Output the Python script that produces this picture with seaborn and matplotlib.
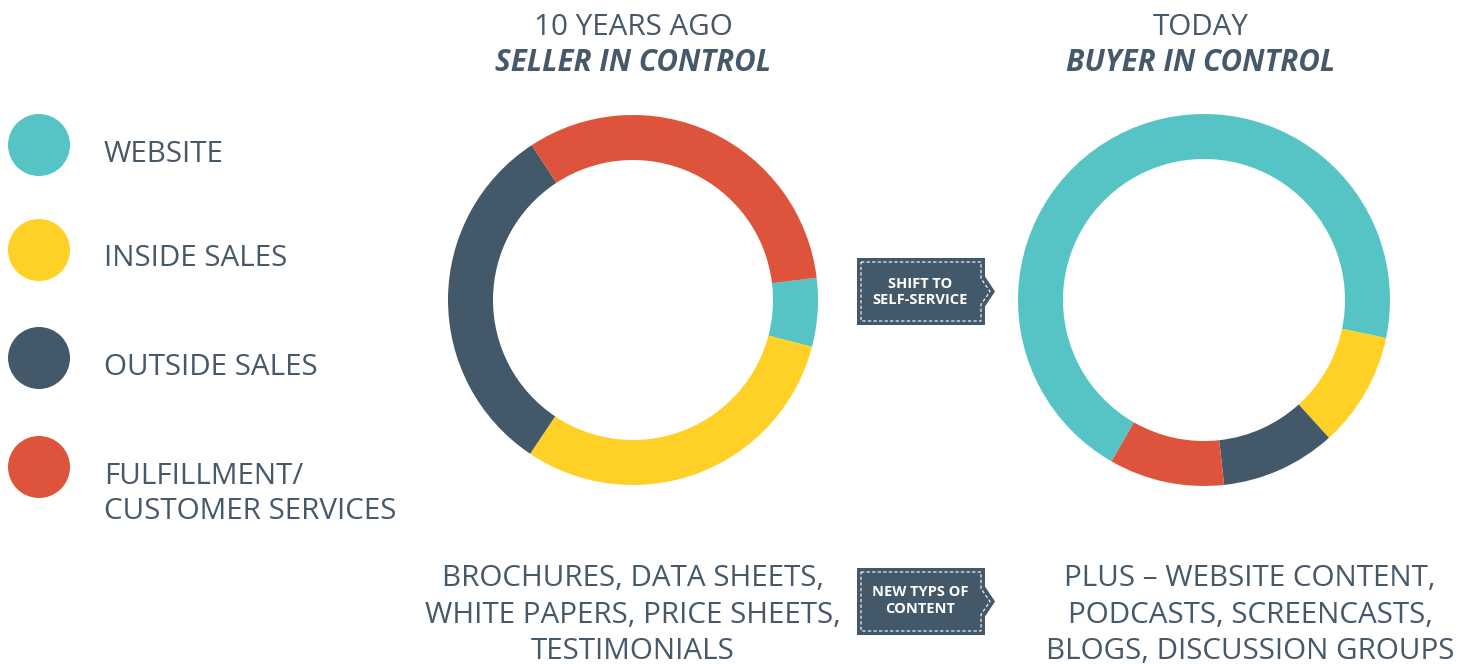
import numpy as np
import matplotlib
matplotlib.use("Agg")
import matplotlib.pyplot as plt
from matplotlib.patches import Polygon
import seaborn as sns

# data
categories = ["WEBSITE", "INSIDE SALES", "OUTSIDE SALES", "FULFILLMENT/\nCUSTOMER SERVICES"]
colors = ["#56C4C5", "#FFD025", "#435869", "#DE533B"]
share_10_years_ago = [6.0, 30.3, 31.4, 32.3]
share_today = [70.0, 10.0, 10.0, 10.0]
left_title = ["10 YEARS AGO", "SELLER IN CONTROL"]
right_title = ["TODAY", "BUYER IN CONTROL"]
left_content = ["BROCHURES, DATA SHEETS,", "WHITE PAPERS, PRICE SHEETS,", "TESTIMONIALS"]
right_content = ["PLUS \u2013 WEBSITE CONTENT,", "PODCASTS, SCREENCASTS,", "BLOGS, DISCUSSION GROUPS"]
box_labels = [["SHIFT TO", "SELF-SERVICE"], ["NEW TYPS OF", "CONTENT"]]

W, H = 1472, 664
TXT = "#46596B"
FONT = ["Open Sans", "DejaVu Sans"]
FS = 21.3

sns.set_theme(style="white")
plt.rcParams["font.family"] = FONT

fig = plt.figure(figsize=(W / 100, H / 100), dpi=100)
ax = fig.add_axes([0, 0, 1, 1])


def Y(y):
    return H - y


# donuts
ax.pie(share_10_years_ago, colors=colors, center=(633, Y(300)), radius=185,
       startangle=6.9, counterclock=False,
       wedgeprops=dict(width=45, linewidth=0, antialiased=True))
ax.pie(share_today, colors=colors, center=(1204, Y(300)), radius=186,
       startangle=240.2, counterclock=False,
       wedgeprops=dict(width=45, linewidth=0, antialiased=True))

# legend dots
leg_y = [145, 250, 358, 467]
sns.scatterplot(x=[39] * 4, y=[Y(v) for v in leg_y], hue=categories, palette=colors,
                s=62 * 0.72 * 62 * 0.72, linewidth=0, legend=False, ax=ax)

leg_base = [[162], [266], [375], [484, 519]]
for cat, bases in zip(categories, leg_base):
    for line, b in zip(cat.split("\n"), bases):
        ax.text(104, Y(b), line, fontsize=FS, color=TXT, va="baseline", ha="left")

# titles
for cx, (t1, t2) in [(633, left_title), (1201, right_title)]:
    ax.text(cx, Y(35), t1, fontsize=FS, color=TXT, ha="center", va="baseline")
    ax.text(cx, Y(71), t2, fontsize=FS, color=TXT, ha="center", va="baseline",
            fontweight="bold", style="italic")

# content text
for cx, lines in [(633, left_content), (1250, right_content)]:
    for line, b in zip(lines, [586, 623, 659]):
        ax.text(cx, Y(b), line, fontsize=FS, color=TXT, ha="center", va="baseline")

# arrow boxes
for top, labels, bases in [(258, box_labels[0], [287.5, 304]), (568, box_labels[1], [596.5, 613])]:
    h = 67
    mid = top + h / 2
    outer = [(857, top), (985, top), (985, mid - 15), (995, mid), (985, mid + 15),
             (985, top + h), (857, top + h)]
    inner = [(861, top + 4), (981, top + 4), (981, mid - 13), (990, mid), (981, mid + 13),
             (981, top + h - 4), (861, top + h - 4)]
    ax.add_patch(Polygon([(x, Y(y)) for x, y in outer], closed=True,
                         facecolor="#435869", edgecolor="none"))
    ax.add_patch(Polygon([(x, Y(y)) for x, y in inner], closed=True, facecolor="none",
                         edgecolor="white", linewidth=0.8, linestyle=(0, (3, 2))))
    for line, b in zip(labels, bases):
        ax.text(920, Y(b), line, fontsize=10.5, color="white", ha="center",
                va="baseline", fontweight="bold")

ax.set_xlim(0, W)
ax.set_ylim(0, H)
ax.set_aspect("equal")
ax.axis("off")

fig.savefig("out.png", dpi=100, facecolor="white")
